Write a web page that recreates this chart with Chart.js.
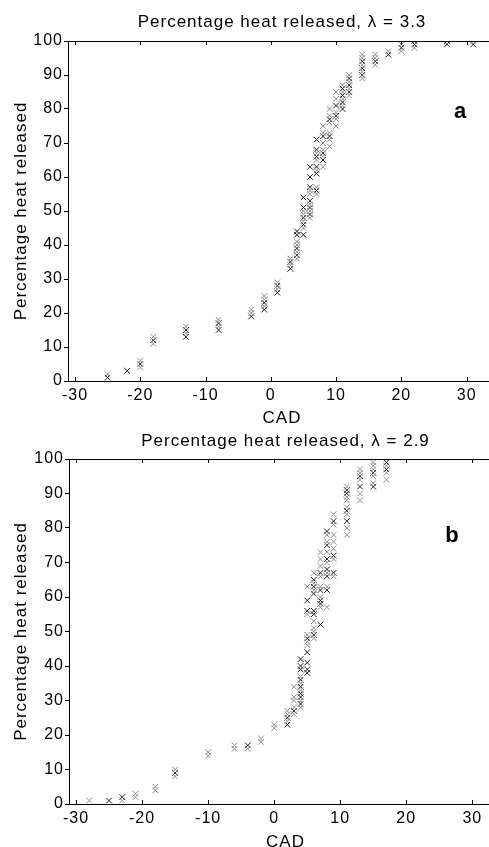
<!DOCTYPE html>
<html>
<head>
<meta charset="utf-8">
<script src="https://cdn.jsdelivr.net/npm/chart.js@4.4.1/dist/chart.umd.min.js"></script>
<style>
  html, body { margin: 0; padding: 0; background: #fff; overflow: hidden; width: 489px; height: 847px; }
  .box { position: absolute; left: 0; }
  #wrapA { top: 0; width: 510px; height: 430px; }
  #wrapB { top: 423px; width: 510px; height: 440px; }
</style>
</head>
<body>
<div class="box" id="wrapA"><canvas id="chartA" width="510" height="430"></canvas></div>
<div class="box" id="wrapB"><canvas id="chartB" width="510" height="440"></canvas></div>
<script>
// crank angle columns and heat released readings (%) per column, lambda = 3.3
var cadA = [-25, -22, -20, -18, -13, -8, -3, -1, 1, 3, 4, 5, 6, 7, 8, 9, 10, 11, 12, 14, 16, 18, 20, 22, 27, 31];
var heatA_grey = [[2], [], [4, 6], [11, 13], [14, 16], [16, 18], [20, 21], [22, 24, 25], [27, 29], [34, 36],
    [36, 38, 40, 41], [45, 47, 49, 50], [48, 50, 52, 55, 56], [55, 57, 62, 65, 67], [63, 66, 68, 70, 73, 75],
    [69, 71, 73, 76, 78, 80], [75, 77, 79, 83, 85], [81, 83, 85, 87], [84, 86, 88, 90], [89, 91, 93, 95, 96],
    [93, 95, 96], [97], [97, 99], [98], [], [100]];
var heatA_dark = [[1], [3], [5], [12], [13, 15], [15, 17], [19], [21, 23], [26, 28], [33, 35],
    [37, 39, 43, 44], [43, 46, 48, 51, 54], [49, 51, 53, 57, 60, 63], [56, 61, 63, 66, 68, 71], [65, 67, 72],
    [72, 77], [78, 81], [80, 82, 84, 86], [85, 87, 89], [90, 92, 94],
    [94], [96], [98], [99, 100], [99, 100], [99]];

// lambda = 2.9
var cadB = [-28, -25, -23, -21, -18, -15, -10, -6, -4, -2, 0, 2, 3, 4, 5, 6, 7, 8, 9, 11, 13, 15, 17];
var heatB_grey = [[1], [], [1], [2, 3], [4, 5], [8, 10], [14, 15], [16, 17], [16], [18, 19], [22, 23],
    [24, 26, 27], [26, 28, 30, 31, 34], [28, 30, 33, 35, 37], [46, 47, 49, 55, 63], [48, 50, 51, 53, 62, 64, 67],
    [57, 60, 63, 66, 69, 71, 73], [57, 63, 67, 70, 73, 76, 78], [66, 71, 74, 76, 78, 81, 84],
    [78, 80, 84, 86, 88, 89, 92], [88, 90, 94, 96, 97], [93, 95, 97, 98, 99], [94, 96, 98, 100]];
var heatB_dark = [[], [1], [2], [], [], [9], [], [], [17], [], [],
    [23, 25], [27], [29, 31, 32, 34, 36, 39, 40, 42], [38, 39, 41, 44, 48, 56, 59], [49, 55, 56, 61, 63, 65],
    [52, 58, 59, 62, 67], [62, 66, 68, 71, 75, 79], [67, 72, 82],
    [82, 85, 90, 91], [92, 95], [92, 96], [97, 99]];

var yTicks = [0, 10, 20, 30, 40, 50, 60, 70, 80, 90, 100];
var xTicks = [-30, -20, -10, 0, 10, 20, 30];

function toPoints(cad, heat) {
    var pts = [];
    cad.forEach(function(c, i) {
        heat[i].forEach(function(h) { pts.push({x: c, y: h}); });
    });
    return pts;
}

var FONT = "'Liberation Sans', Arial, sans-serif";

// inward ticks on top/bottom, frame top line, panel letter
var frame = {
    id: 'frame',
    beforeDraw: function(chart) {
        // matlab's text is set a little looser than canvas Arial
        chart.ctx.letterSpacing = '1px';
    },
    afterDatasetsDraw: function(chart, args, opts) {
        var ctx = chart.ctx, a = chart.chartArea, xs = chart.scales.x;
        ctx.save();
        ctx.strokeStyle = '#000';
        ctx.lineWidth = 1;
        ctx.beginPath();
        ctx.moveTo(a.left, a.top + 0.5);
        ctx.lineTo(a.right, a.top + 0.5);
        xTicks.forEach(function(t) {
            var px = Math.round(xs.getPixelForValue(t)) + 0.5;
            ctx.moveTo(px, a.top);
            ctx.lineTo(px, a.top + 4);
            ctx.moveTo(px, a.bottom);
            ctx.lineTo(px, a.bottom - 4);
        });
        ctx.stroke();
        ctx.letterSpacing = '0px';
        ctx.fillStyle = '#000';
        ctx.font = 'bold 22px ' + FONT;
        ctx.textAlign = 'center';
        ctx.textBaseline = 'middle';
        ctx.fillText(opts.letter, opts.lx, opts.ly);
        ctx.restore();
    }
};

function makeChart(id, cad, grey, dark, title, o) {
    var ctx = document.getElementById(id).getContext('2d');
    return new Chart(ctx, {
        type: 'scatter',
        data: {
            datasets: [
                {
                    data: toPoints(cad, grey),
                    pointStyle: 'crossRot',
                    pointRadius: 4,
                    borderWidth: 1,
                    borderColor: '#8c8c8c',
                    backgroundColor: '#8c8c8c'
                },
                {
                    data: toPoints(cad, dark),
                    pointStyle: 'crossRot',
                    pointRadius: 4,
                    borderWidth: 1,
                    borderColor: '#1e1e1e',
                    backgroundColor: '#1e1e1e'
                }
            ]
        },
        options: {
            responsive: false,
            animation: false,
            layout: { padding: { left: 0, right: o.padRight, top: 0, bottom: 0 } },
            plugins: {
                legend: { display: false },
                tooltip: { enabled: false },
                title: {
                    display: true,
                    text: title,
                    fullSize: false,
                    color: '#000',
                    font: { family: FONT, size: 17, weight: 'normal' },
                    padding: { top: o.titleTop, bottom: o.titleBottom }
                },
                frame: { letter: o.letter, lx: o.lx, ly: o.ly }
            },
            scales: {
                x: {
                    type: 'linear',
                    min: -31.07,
                    max: 34.5,
                    afterFit: function(s) { s.height = o.xHeight; },
                    afterBuildTicks: function(s) { s.ticks = xTicks.map(function(v) { return {value: v}; }); },
                    grid: { display: true, drawOnChartArea: false, drawTicks: false },
                    border: { display: true, color: '#000', width: 1 },
                    ticks: { color: '#000', padding: 5, maxRotation: 0, font: { family: FONT, size: 16 } },
                    title: {
                        display: true,
                        text: 'CAD',
                        color: '#000',
                        font: { family: FONT, size: 17 },
                        padding: { top: 0, bottom: o.cadPad }
                    }
                },
                y: {
                    type: 'linear',
                    min: 0,
                    max: 100,
                    afterFit: function(s) { s.width = o.yWidth; },
                    afterBuildTicks: function(s) { s.ticks = yTicks.map(function(v) { return {value: v}; }); },
                    grid: { display: true, drawOnChartArea: false, drawTicks: true, tickLength: 4, color: '#000' },
                    border: { display: true, color: '#000', width: 1 },
                    ticks: { color: '#000', padding: 1, font: { family: FONT, size: 16 } },
                    title: {
                        display: true,
                        text: 'Percentage heat released',
                        color: '#000',
                        font: { family: FONT, size: 17 },
                        padding: { top: 11, bottom: 0 }
                    }
                }
            }
        },
        plugins: [frame]
    });
}

makeChart('chartA', cadA, heatA_grey, heatA_dark, 'Percentage heat released, \u03bb = 3.3', {
    padRight: 14, titleTop: 12.3, titleBottom: 8.3, xHeight: 49, cadPad: 1.3, yWidth: 68,
    letter: 'a', lx: 460, ly: 112
});
makeChart('chartB', cadB, heatB_grey, heatB_dark, 'Percentage heat released, \u03bb = 2.9', {
    padRight: 8, titleTop: 7.8, titleBottom: 7.8, xHeight: 59, cadPad: 10.8, yWidth: 69,
    letter: 'b', lx: 452, ly: 113
});
</script>
</body>
</html>
